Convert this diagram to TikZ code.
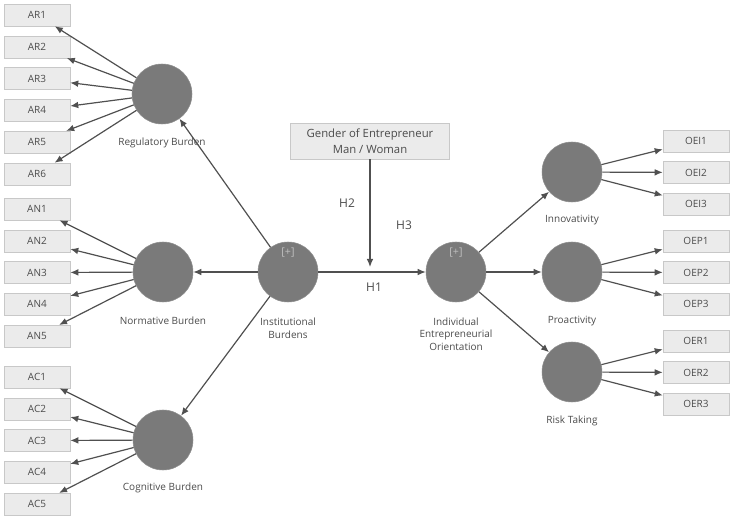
\documentclass[tikz,border=0pt]{standalone}
\usepackage{fontspec}
\setmainfont{Open Sans}
\usetikzlibrary{calc,arrows.meta}

\definecolor{lvgray}{RGB}{122,122,122}
\definecolor{boxfill}{RGB}{235,235,235}
\definecolor{boxline}{RGB}{200,200,200}
\definecolor{txt}{RGB}{75,75,75}
\definecolor{linegray}{RGB}{80,80,80}

\tikzset{
  lv/.style={circle,fill=lvgray,draw=lvgray!85!white,minimum size=45pt,inner sep=0pt},
  ind/.style={rectangle,fill=boxfill,draw=boxline,minimum width=49.5pt,minimum height=16.5pt,
    inner sep=0pt,text=txt,font=\fontsize{7.5}{9}\selectfont},
  lab/.style={text=txt,align=center,font=\fontsize{7.5}{9.5}\selectfont},
  hyp/.style={text=txt,font=\fontsize{9}{11}\selectfont},
  plus/.style={text=gray!50,font=\fontsize{8}{9}\selectfont},
  con/.style={draw=linegray,line width=0.9pt,-{Latex[length=6pt,width=5pt]}}
}

\begin{document}
\begin{tikzpicture}[x=0.75pt,y=-0.75pt]
  \useasboundingbox (0,0) rectangle (736,520);
  % latent variables
  \node[lv] (RB) at (162,94) {};
  \node[lv] (NB) at (163,272) {};
  \node[lv] (CB) at (163,440) {};
  \node[lv] (IB) at (288,272) {};
  \node[lv] (IEO) at (456,272) {};
  \node[lv] (INN) at (572,172) {};
  \node[lv] (PRO) at (572,272) {};
  \node[lv] (RT) at (572,372) {};
  \node[plus] (IBp) at ($(IB)+(0,-19)$) {[+]};
  \node[plus] (IEOp) at ($(IEO)+(0,-19)$) {[+]};
  % labels
  \node[lab] (RBl) at (162,143) {Regulatory Burden};
  \node[lab] (NBl) at (163,321) {Normative Burden};
  \node[lab] (CBl) at (163,488) {Cognitive Burden};
  \node[lab] (IBl) at (288,328) {Institutional\\Burdens};
  \node[lab] (IEOl) at (456,334) {Individual\\Entrepreneurial\\Orientation};
  \node[lab] (INNl) at (572,220) {Innovativity};
  \node[lab] (PROl) at (572,321) {Proactivity};
  \node[lab] (RTl) at (572,421) {Risk Taking};
  % indicators
  \foreach \i in {1,...,6}
    \node[ind] (AR\i) at (37,{15+31.8*(\i-1)}) {AR\i};
  \foreach \i in {1,...,5}
    \node[ind] (AN\i) at (37,{209+31.8*(\i-1)}) {AN\i};
  \foreach \i in {1,...,5}
    \node[ind] (AC\i) at (37,{377+31.8*(\i-1)}) {AC\i};
  \foreach \i in {1,2,3} {
    \node[ind] (OEI\i) at (696,{141+31.5*(\i-1)}) {OEI\i};
    \node[ind] (OEP\i) at (696,{241+31.5*(\i-1)}) {OEP\i};
    \node[ind] (OER\i) at (696,{341+31.5*(\i-1)}) {OER\i};
  }
  % moderator
  \node[rectangle,fill=boxfill,draw=boxline,minimum width=119pt,minimum height=27pt,
    align=center,text=txt,font=\fontsize{8.5}{12}\selectfont] (G) at (370,141)
    {Gender of Entrepreneur\\Man / Woman};
  \coordinate (M) at ($(G.south |- IB)+(0,-5)$);
  % paths
  \foreach \i in {1,...,6} \draw[con] (RB) -- (AR\i);
  \foreach \i in {1,...,5} \draw[con] (NB) -- (AN\i);
  \foreach \i in {1,...,5} \draw[con] (CB) -- (AC\i);
  \foreach \i in {1,2,3} {
    \draw[con] (INN) -- (OEI\i);
    \draw[con] (PRO) -- (OEP\i);
    \draw[con] (RT) -- (OER\i);
  }
  \draw[con] (IB) -- (RB);
  \draw[con] (IB) -- (NB);
  \draw[con] (IB) -- (CB);
  \draw[con] (IB) -- (IEO);
  \draw[con] (IEO) -- (INN);
  \draw[con] (IEO) -- (PRO);
  \draw[con] (IEO) -- (RT);
  \draw[con] (G) -- (M);
  \node[hyp] (H1) at (374,287) {H1};
  \node[hyp] (H2) at (347,203) {H2};
  \node[hyp] (H3) at (404,225) {H3};
\end{tikzpicture}
\end{document}
